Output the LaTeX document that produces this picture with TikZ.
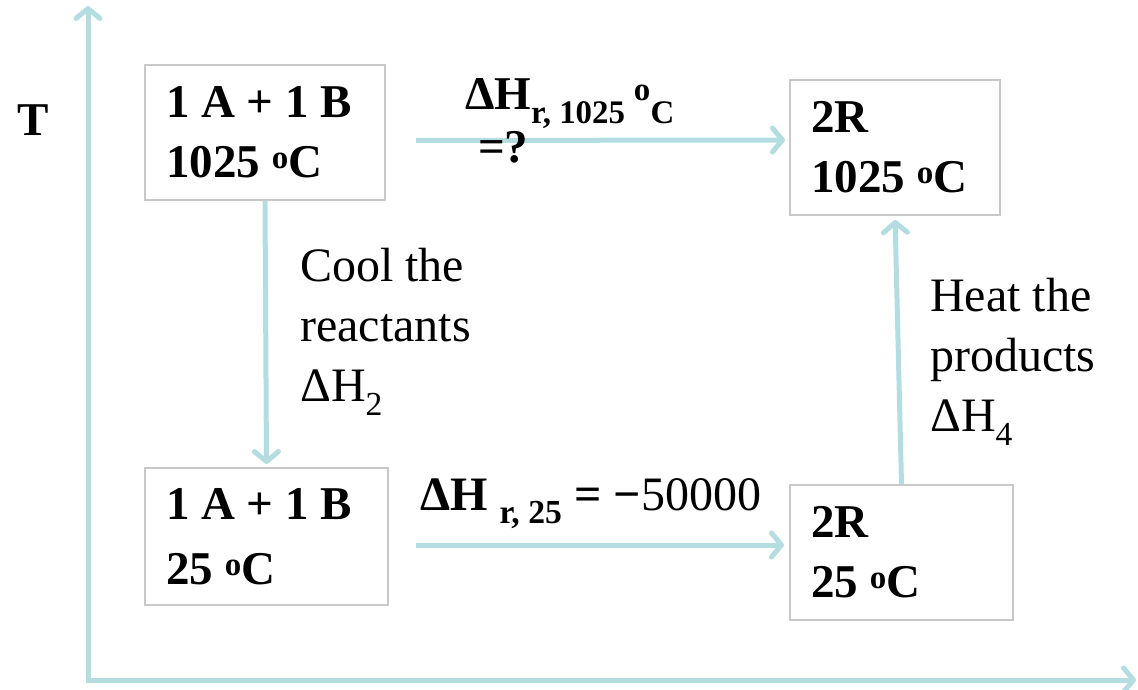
\documentclass[tikz,border=0pt]{standalone}
\usepackage{fontspec}
\setmainfont{Liberation Serif}
\usepackage{tikz}
\usetikzlibrary{arrows.meta, calc, positioning}
\definecolor{flowblue}{HTML}{B4DDE1}
\definecolor{boxgray}{HTML}{C8C8C8}
\newcommand\bigrm{\fontsize{48}{60}\selectfont}
\newcommand\bigbf{\fontsize{47}{60}\selectfont\bfseries}
\tikzset{
  statebox/.style  = {draw=boxgray, line width=2pt, fill=white, align=flush left,
                      inner xsep=21pt, inner ysep=0pt, font=\bigbf},
  flow/.style      = {draw=flowblue, line width=5pt,
                      -{Straight Barb[length=10pt, width=24pt, line cap=round, line join=round]}},
  axisarrow/.style = {draw=flowblue, line width=5pt,
                      {Straight Barb[length=10pt, width=24pt, line cap=round, line join=round]}-{Straight Barb[length=10pt, width=24pt, line cap=round, line join=round]}},
  steplab/.style   = {font=\bigrm, align=flush left, inner sep=0pt},
}

\begin{document}
\begin{tikzpicture}[x=1pt, y=-1pt]
  \useasboundingbox[fill=white] (0,0) rectangle (1138,690);
  % axes
  \coordinate (origin) at (88,680);
  \coordinate (ttip) at (88,6);
  \coordinate (xtip) at (1136,680);
  \draw[axisarrow] (ttip) -- (origin) -- (xtip);
  \node[steplab, font=\bigbf] (taxis) at (33,120) {T};
  % states
  \node[statebox, text width=198pt, minimum height=135pt] (hotin) at (265,132.5)
    {1 A + 1 B\\1025 \textsuperscript{o}C};
  \node[statebox, text width=168pt, minimum height=135pt] (hotout) at (895,147.5)
    {2R\\1025 \textsuperscript{o}C};
  \node[statebox, text width=201pt, minimum height=137pt] (coldin) at (266.5,536.5)
    {1 A + 1 B\\[5pt]25 \textsuperscript{o}C};
  \node[statebox, text width=181pt, minimum height=135pt] (coldout) at (901.5,552.5)
    {2R\\25 \textsuperscript{o}C};
  % paths
  \draw[flow] ($(hotin.east)+(30,8)$) -- ($(hotout.west)+(-4,-7.5)$);
  \draw[flow, shorten >=3pt] (hotin.south) -- (coldin.north);
  \draw[flow] ($(coldin.east)+(27,8.5)$) -- ($(coldout.west)+(-5,-7.5)$);
  \draw[flow, shorten >=4pt] (coldout.north) -- (hotout.south);
  % labels
  \node[steplab, font=\bigbf, anchor=base west] (dhhot) at (465,110)
    {ΔH\textsubscript{r, 1025 }\textsuperscript{o}\textsubscript{C}};
  \node[steplab, font=\bigbf, anchor=base west] (dhq) at (478,162) {=?};
  \node[steplab, anchor=base west] (dhcold) at (420,510)
    {\textbf{ΔH \textsubscript{r, 25} = −}50000};
  \node[steplab, anchor=west] (coollab) at (300,332) {Cool the\\reactants\\ΔH\textsubscript{2}};
  \node[steplab, anchor=west] (heatlab) at (930,362) {Heat the\\products\\ΔH\textsubscript{4}};
\end{tikzpicture}
\end{document}
